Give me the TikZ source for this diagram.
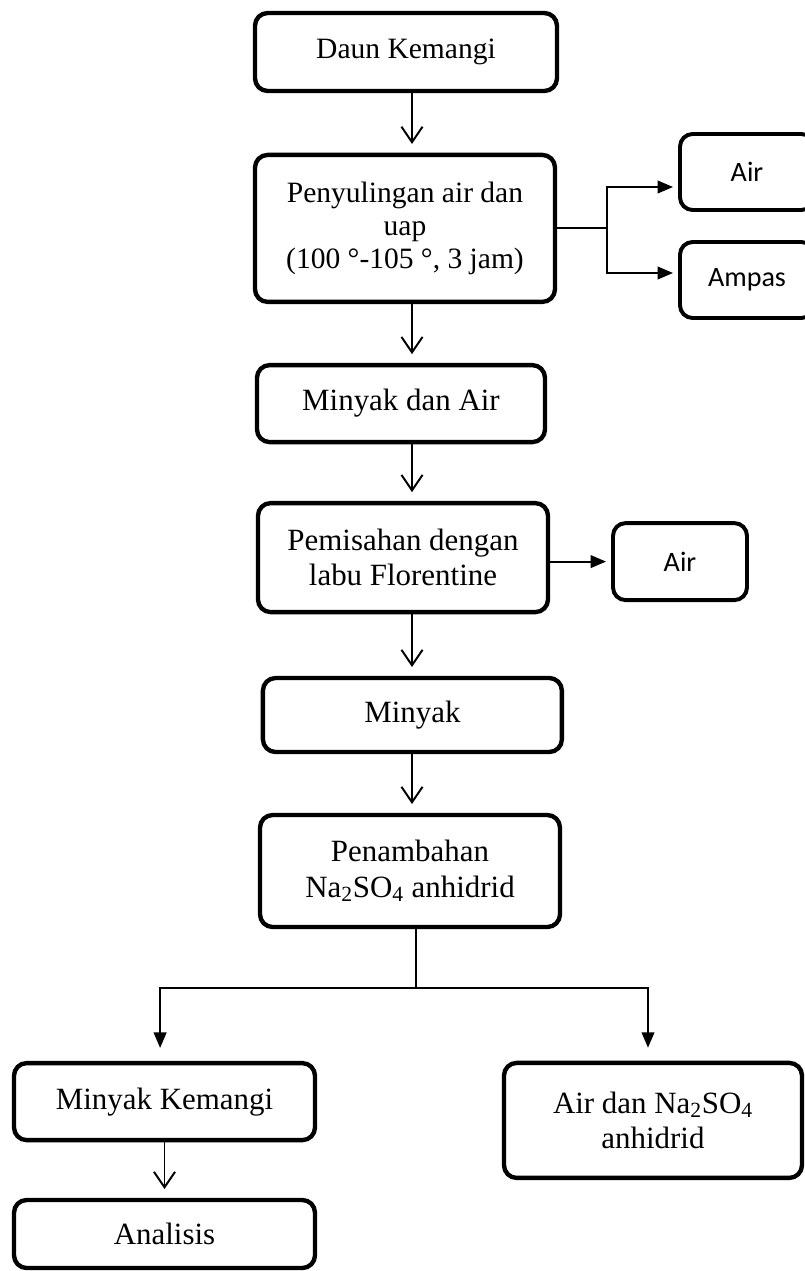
\documentclass[tikz,border=0pt]{standalone}
\usepackage{fontspec}
\setmainfont{Liberation Serif}
\newfontfamily\sidefont{Carlito}
\usetikzlibrary{arrows.meta}
\tikzset{
  box/.style={draw, line width=3.1pt, rounded corners=9pt, align=center, inner sep=0pt,
    font=\fontsize{22}{25}\selectfont},
  topbox/.style={box, font=\fontsize{21}{23.5}\selectfont},
  sidebox/.style={box, line width=2.8pt, font=\sidefont\fontsize{20}{23}\selectfont},
  link/.style={line width=1.4pt},
  flow/.style={link, -{Straight Barb[length=11pt,width=15pt,line width=1.4pt]}, shorten >=0.22cm},
  tip/.style={link, -{Triangle[length=11pt,width=9pt]}}
}
\begin{document}
\begin{tikzpicture}
\useasboundingbox (0,0) rectangle (20.125,-31.775);
\node[topbox, minimum width=7.55cm, minimum height=1.95cm] (daun) at (10.15,-1.3) {Daun Kemangi};
\node[topbox, minimum width=7.5cm, minimum height=3.675cm] (suling) at (10.125,-5.71) {Penyulingan air dan\\uap\\(100 °-105 °, 3 jam)};
\node[sidebox, minimum width=3.35cm, minimum height=1.9cm] (air1) at (18.675,-4.3) {Air};
\node[sidebox, minimum width=3.35cm, minimum height=1.9cm] (ampas) at (18.675,-7.0) {Ampas};
\node[box, minimum width=7.2cm, minimum height=1.925cm] (campur) at (10.025,-10.09) {Minyak dan Air};
\node[box, minimum width=7.25cm, minimum height=2.725cm] (pisah) at (10.075,-13.94) {Pemisahan dengan\\labu Florentine};
\node[sidebox, minimum width=3.35cm, minimum height=1.925cm] (air2) at (17.0,-14.04) {Air};
\node[box, minimum width=7.475cm, minimum height=1.85cm] (minyak) at (10.31,-17.875) {Minyak};
\node[box, minimum width=7.5cm, minimum height=2.8cm] (tambah) at (10.25,-21.775) {Penambahan\\Na\textsubscript{2}SO\textsubscript{4} anhidrid};
\node[box, minimum width=7.525cm, minimum height=1.925cm] (kemangi) at (4.1125,-27.54) {Minyak Kemangi};
\node[box, minimum width=7.45cm, minimum height=2.875cm] (endapan) at (16.325,-28.01) {Air dan Na\textsubscript{2}SO\textsubscript{4}\\anhidrid};
\node[box, minimum width=7.525cm, minimum height=1.7cm] (analisis) at (4.1125,-30.85) {Analisis};
\coordinate (spine) at (10.3,0);
\coordinate (fork) at (10.4,-24.7);
\draw[flow] (daun.south -| spine) -- (suling.north -| spine);
\draw[flow] (suling.south -| spine) -- (campur.north -| spine);
\draw[flow] (campur.south -| spine) -- (pisah.north -| spine);
\draw[flow] (pisah.south -| spine) -- (minyak.north -| spine);
\draw[flow] (minyak.south -| spine) -- (tambah.north -| spine);
\draw[link] (suling.east) -- ++(1.25,0) coordinate (split);
\draw[tip, shorten >=0.125cm] (split) |- ([yshift=-0.375cm]air1.west);
\draw[tip, shorten >=0.125cm] (split) |- ([yshift=0.175cm]ampas.west);
\draw[tip, shorten >=0.125cm] (pisah.east |- air2.west) -- (air2.west);
\draw[link] (tambah.south -| fork) -- (fork);
\draw[tip, shorten >=0.325cm] (fork) -| ([xshift=-0.11cm]kemangi.north);
\draw[tip, shorten >=0.325cm] (fork) -| ([xshift=-0.125cm]endapan.north);
\draw[flow] (kemangi.south) -- (analisis.north);
\end{tikzpicture}
\end{document}
